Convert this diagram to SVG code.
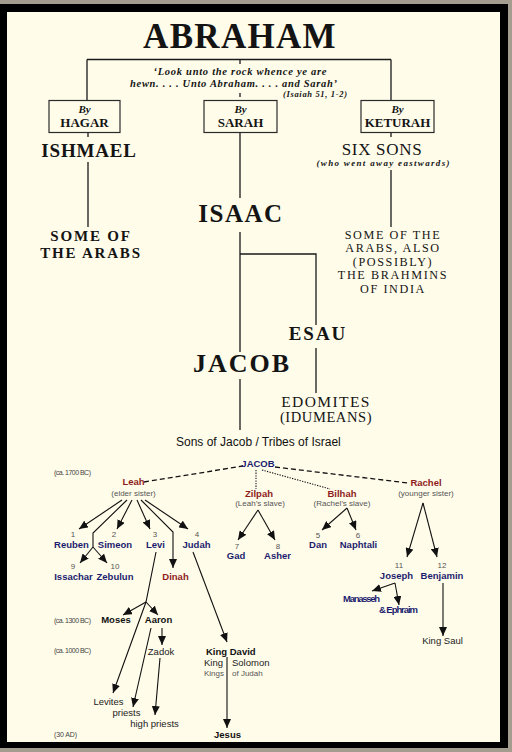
<svg xmlns="http://www.w3.org/2000/svg" width="512" height="752" viewBox="0 0 512 752">
<defs>
<style>
.sb{font-family:"Liberation Serif","Times New Roman",serif;font-weight:bold;fill:#141414}
.sr{font-family:"Liberation Serif","Times New Roman",serif;fill:#141414}
.si{font-family:"Liberation Serif","Times New Roman",serif;font-weight:bold;font-style:italic;fill:#141414}
.a{font-family:"Liberation Sans",Arial,sans-serif;fill:#111}
.nb{font-family:"Liberation Sans",Arial,sans-serif;font-weight:bold;fill:#1c1c6e;font-size:9.5px}
.rd{font-family:"Liberation Sans",Arial,sans-serif;font-weight:bold;fill:#8e1c1c;font-size:9.5px}
.gy{font-family:"Liberation Sans",Arial,sans-serif;fill:#555;font-size:8px}
.num{font-family:"Liberation Sans",Arial,sans-serif;fill:#555;font-size:8px}
.bk{font-family:"Liberation Sans",Arial,sans-serif;font-weight:bold;fill:#111;font-size:9.5px}
.rg{font-family:"Liberation Sans",Arial,sans-serif;fill:#222;font-size:9.5px}
.dt{font-family:"Liberation Sans",Arial,sans-serif;fill:#444;font-size:7px}
.br{font-family:"Liberation Serif","Times New Roman",serif;fill:#141414;font-size:12.2px;letter-spacing:1.6px;text-anchor:middle}
.t{stroke:#1a1a1a;stroke-width:1.3;fill:none}
.box{fill:none;stroke:#2a2a2a;stroke-width:1.2}
.ln{stroke:#111;stroke-width:1.1;fill:none}
.ar{stroke:#111;stroke-width:1.1;fill:none;marker-end:url(#ah)}
.dash{stroke:#111;stroke-width:1.3;fill:none;stroke-dasharray:5 3}
.dot{stroke:#111;stroke-width:1.1;fill:none;stroke-dasharray:1.3 1.3}
</style>
<marker id="ah" markerUnits="userSpaceOnUse" markerWidth="9" markerHeight="8" refX="9" refY="4" orient="auto">
<path d="M0,0 L9,4 L0,8 Z" fill="#111"/>
</marker>
</defs>

<rect x="0" y="0" width="512" height="752" fill="#a49c8f"/>
<rect x="0" y="4" width="508" height="744" fill="#000"/>
<rect x="7" y="12" width="493" height="730" fill="#fffcea"/>

<g id="connectors">
  <path class="t" d="M87,59.5 H391 M87,59.5 V100.5 M391,59.5 V100.5 M240,60 V64 M240,93 V97"/>
  <path class="t" d="M88,132.5 V137 M88,162 V227"/>
  <path class="t" d="M240,132.5 V198"/>
  <path class="t" d="M391,132.5 V137 M391,170 V227"/>
  <path class="t" d="M240,232 V352 M240,254 H316 V325"/>
  <path class="t" d="M316,348 V393"/>
  <path class="t" d="M240,379 V430"/>

  <path class="dash" d="M144,482 L243,466"/>
  <path class="dash" d="M275,467 L408,483"/>
  <path class="dot" d="M256,470 V489 M262,470 L330,489"/>

  <path class="ar" d="M122,500 L79,529"/>
  <path class="ln" d="M127,500 L93,533 L93,547"/>
  <path class="ar" d="M93,547 L80,563"/>
  <path class="ar" d="M93,547 L107,563"/>
  <path class="ar" d="M132,500 L117,529"/>
  <path class="ar" d="M137,500 L150,529"/>
  <path class="ar" d="M141,500 L173,532 L173,568"/>
  <path class="ar" d="M145,500 L188,529"/>

  <path class="ar" d="M258,510 L238,540"/>
  <path class="ar" d="M258,510 L275,540"/>
  <path class="ar" d="M347,508 L322,530"/>
  <path class="ar" d="M347,508 L356,530"/>
  <path class="ar" d="M423,503 L407,557"/>
  <path class="ar" d="M423,503 L437,557"/>
  <path class="ar" d="M395,583 L372,591"/>
  <path class="ar" d="M395,583 L399,605"/>
  <path class="ar" d="M443,583 V636"/>

  <path class="ar" d="M156,552 L146,602 L113,693"/>
  <path class="ar" d="M146,602 L123,615"/>
  <path class="ar" d="M146,602 L158,615"/>
  <path class="ar" d="M162,628 V645"/>
  <path class="ar" d="M151,628 L133,707"/>
  <path class="ar" d="M160,658 L155,715"/>
  <path class="ar" d="M193,552 L227,642"/>
  <path class="ar" d="M227,657 V728"/>
</g>

<g id="abraham">
  <text class="sb" x="240" y="48" font-size="35" text-anchor="middle" letter-spacing="1.3">ABRAHAM</text>
</g>
<g id="quote">
  <text class="si" x="240" y="75" font-size="10.5" text-anchor="middle" textLength="173">‘Look unto the rock whence ye are</text>
  <text class="si" x="233.5" y="87" font-size="10.5" text-anchor="middle" textLength="207">hewn. . . . Unto Abraham. . . . and Sarah’</text>
  <text class="si" x="283" y="97" font-size="8.5" textLength="64" font-style="normal">(Isaiah 51, 1-2)</text>
</g>
<g id="hagar">
  <rect class="box" x="49" y="100.5" width="71" height="32"/>
  <text class="si" x="84.5" y="113" font-size="11" text-anchor="middle">By</text>
  <text class="sb" x="84.5" y="127" font-size="13" text-anchor="middle">HAGAR</text>
</g>
<g id="sarah">
  <rect class="box" x="204" y="100.5" width="73" height="32"/>
  <text class="si" x="240.5" y="113" font-size="11" text-anchor="middle">By</text>
  <text class="sb" x="240.5" y="127" font-size="13" text-anchor="middle">SARAH</text>
</g>
<g id="keturah">
  <rect class="box" x="361" y="100.5" width="73" height="32"/>
  <text class="si" x="397.5" y="113" font-size="11" text-anchor="middle">By</text>
  <text class="sb" x="397.5" y="127" font-size="13" text-anchor="middle">KETURAH</text>
</g>
<g id="ishmael">
  <text class="sb" x="89" y="157" font-size="19" text-anchor="middle" letter-spacing="0.8">ISHMAEL</text>
</g>
<g id="arabs">
  <text class="sr" x="91" y="241" font-size="15" text-anchor="middle" letter-spacing="1.8" font-weight="bold">SOME OF</text>
  <text class="sr" x="91" y="258" font-size="15" text-anchor="middle" letter-spacing="1.8" font-weight="bold">THE ARABS</text>
</g>
<g id="sixsons">
  <text class="sr" x="382" y="155" font-size="17" text-anchor="middle" letter-spacing="0.7">SIX SONS</text>
  <text class="si" x="383" y="166" font-size="9" text-anchor="middle" textLength="133">(who went away eastwards)</text>
</g>
<g id="brahmins">
  <text class="br" x="393" y="238.5">SOME OF THE</text>
  <text class="br" x="393" y="252">ARABS, ALSO</text>
  <text class="br" x="393" y="265.5">(POSSIBLY)</text>
  <text class="br" x="393" y="279">THE BRAHMINS</text>
  <text class="br" x="393" y="292.5">OF INDIA</text>
</g>
<g id="isaac">
  <text class="sb" x="241" y="222" font-size="25" text-anchor="middle" letter-spacing="1.5">ISAAC</text>
</g>
<g id="esau">
  <text class="sb" x="318" y="340" font-size="19" text-anchor="middle" letter-spacing="2">ESAU</text>
</g>
<g id="jacob">
  <text class="sb" x="242" y="372" font-size="26" text-anchor="middle" letter-spacing="2">JACOB</text>
</g>
<g id="edomites">
  <text class="sr" x="326" y="407" font-size="15.5" text-anchor="middle" letter-spacing="1.4">EDOMITES</text>
  <text class="sr" x="326" y="422" font-size="14.5" text-anchor="middle" letter-spacing="0.6">(IDUMEANS)</text>
</g>

<g id="title">
  <text class="a" x="176" y="446" font-size="12">Sons of Jacob / Tribes of Israel</text>
</g>
<g id="dates">
  <text class="dt" x="54" y="475" textLength="37">(ca. 1700 BC)</text>
  <text class="dt" x="54" y="623" textLength="37">(ca. 1300 BC)</text>
  <text class="dt" x="54" y="653" textLength="37">(ca. 1000 BC)</text>
  <text class="dt" x="54" y="737" textLength="23">(30 AD)</text>
</g>
<g id="jacob2">
  <text class="nb" x="258" y="467" text-anchor="middle">JACOB</text>
</g>
<g id="leah">
  <text class="rd" x="133.5" y="485" text-anchor="middle">Leah</text>
  <text class="gy" x="133.5" y="496" text-anchor="middle">(elder sister)</text>
</g>
<g id="zilpah">
  <text class="rd" x="259" y="497" text-anchor="middle">Zilpah</text>
  <text class="gy" x="260" y="506" text-anchor="middle">(Leah’s slave)</text>
</g>
<g id="bilhah">
  <text class="rd" x="342" y="497" text-anchor="middle">Bilhah</text>
  <text class="gy" x="342" y="506" text-anchor="middle">(Rachel’s slave)</text>
</g>
<g id="rachel">
  <text class="rd" x="426" y="486" text-anchor="middle">Rachel</text>
  <text class="gy" x="426" y="496" text-anchor="middle">(younger sister)</text>
</g>
<g id="reuben"><text class="num" x="73" y="537" text-anchor="middle">1</text><text class="nb" x="71.5" y="548" text-anchor="middle">Reuben</text></g>
<g id="simeon"><text class="num" x="114" y="537" text-anchor="middle">2</text><text class="nb" x="115" y="548" text-anchor="middle">Simeon</text></g>
<g id="levi"><text class="num" x="155" y="537" text-anchor="middle">3</text><text class="nb" x="155.5" y="548" text-anchor="middle">Levi</text></g>
<g id="judah"><text class="num" x="197" y="537" text-anchor="middle">4</text><text class="nb" x="196.5" y="548" text-anchor="middle">Judah</text></g>
<g id="issachar"><text class="num" x="73" y="569" text-anchor="middle">9</text><text class="nb" x="73.5" y="580" text-anchor="middle">Issachar</text></g>
<g id="zebulun"><text class="num" x="115" y="569" text-anchor="middle">10</text><text class="nb" x="115" y="580" text-anchor="middle">Zebulun</text></g>
<g id="dinah"><text class="rd" x="175.5" y="580" text-anchor="middle" font-weight="normal">Dinah</text></g>
<g id="gad"><text class="num" x="237" y="549" text-anchor="middle">7</text><text class="nb" x="236" y="559" text-anchor="middle">Gad</text></g>
<g id="asher"><text class="num" x="278" y="549" text-anchor="middle">8</text><text class="nb" x="277.5" y="559" text-anchor="middle">Asher</text></g>
<g id="dan"><text class="num" x="318" y="538" text-anchor="middle">5</text><text class="nb" x="318" y="548" text-anchor="middle">Dan</text></g>
<g id="naphtali"><text class="num" x="358" y="538" text-anchor="middle">6</text><text class="nb" x="358.5" y="548" text-anchor="middle">Naphtali</text></g>
<g id="joseph"><text class="num" x="399" y="568" text-anchor="middle">11</text><text class="nb" x="396.5" y="579" text-anchor="middle">Joseph</text></g>
<g id="benjamin"><text class="num" x="442" y="568" text-anchor="middle">12</text><text class="nb" x="442" y="579" text-anchor="middle">Benjamin</text></g>
<g id="manasseh"><text class="nb" x="343" y="602" font-size="8.5" textLength="37">Manasseh</text></g>
<g id="ephraim"><text class="nb" x="379" y="613" font-size="8.5" textLength="39">&amp; Ephraim</text></g>
<g id="saul"><text class="rg" x="442.5" y="644" text-anchor="middle">King Saul</text></g>
<g id="moses"><text class="bk" x="116" y="623" text-anchor="middle">Moses</text></g>
<g id="aaron"><text class="bk" x="158.5" y="623" text-anchor="middle">Aaron</text></g>
<g id="zadok"><text class="rg" x="161" y="655" text-anchor="middle">Zadok</text></g>
<g id="levites"><text class="rg" x="108.5" y="705" text-anchor="middle" font-size="8.5" fill="#444">Levites</text></g>
<g id="priests"><text class="rg" x="126.5" y="716" text-anchor="middle" font-size="8.5" fill="#444">priests</text></g>
<g id="highpriests"><text class="rg" x="154.5" y="727" text-anchor="middle" font-size="8.5" fill="#444">high priests</text></g>
<g id="david">
  <text class="bk" x="206" y="655">King David</text>
  <text class="rg" x="204" y="666">King</text>
  <text class="rg" x="232" y="666">Solomon</text>
  <text class="gy" x="204" y="676">Kings</text>
  <text class="gy" x="232" y="676">of Judah</text>
</g>
<g id="jesus"><text class="bk" x="227.5" y="738" text-anchor="middle">Jesus</text></g>
</svg>
